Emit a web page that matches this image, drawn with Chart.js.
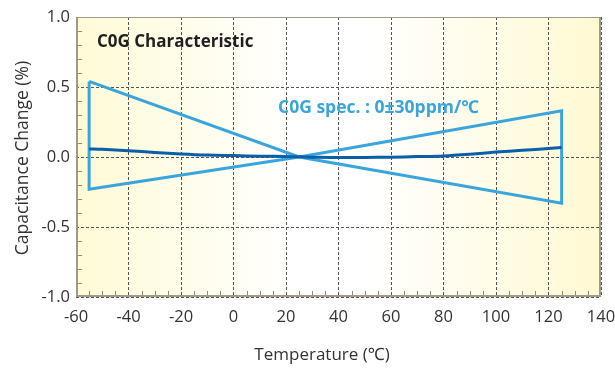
<!DOCTYPE html>
<html><head><meta charset="utf-8">
<script src="https://cdn.jsdelivr.net/npm/chart.js@4"></script>
<style>html,body{margin:0;padding:0;background:#fff}#wrap{width:615px;height:368px}</style>
</head><body><div id="wrap"><canvas id="c" width="615" height="368"></canvas></div>
<script>
const temps = [-55, -50, -40, -30, -20, -10, 0, 10, 20, 25, 30, 40, 50, 60, 70, 80, 90, 100, 110, 120, 125];
const measured = [0.058, 0.055, 0.045, 0.033, 0.022, 0.014, 0.010, 0.006, 0.003, 0.001, -0.001, -0.004, -0.003, -0.001, 0.003, 0.008, 0.020, 0.035, 0.048, 0.060, 0.067];
const specT = [-55, 25, 125, 125, 25, -55, -55];
const specV = [0.54, 0, -0.33, 0.33, 0, -0.23, 0.54];
const xTicks = [-60, -40, -20, 0, 20, 40, 60, 80, 100, 120, 140];
const yTicks = [-1.0, -0.5, 0.0, 0.5, 1.0];
const titleText = "C0G Characteristic";
const specText = "C0G spec. : 0\u00b130ppm/\u2103";
const xTitle = "Temperature (\u2103)";
const yTitle = "Capacitance Change (%)";

const FONT = '"Open Sans", "Noto Sans", sans-serif';

const bgPlugin = {
  id: 'bg',
  beforeDraw(chart) {
    const {ctx, chartArea: a} = chart;
    const g = ctx.createLinearGradient(a.left, 0, a.right, 0);
    g.addColorStop(0, '#fffbd6');
    g.addColorStop(0.42, '#ffffff');
    g.addColorStop(0.55, '#ffffff');
    g.addColorStop(1, '#fff9d2');
    ctx.save();
    ctx.fillStyle = g;
    ctx.fillRect(a.left, a.top, a.right - a.left, a.bottom - a.top);
    ctx.restore();
  },
  afterDatasetsDraw(chart) {
    const {ctx, chartArea: a, scales} = chart;
    ctx.save();
    ctx.strokeStyle = '#8c8a7c';
    ctx.lineWidth = 1;
    ctx.beginPath();
    for (let t = -60; t <= 140; t += 5) {
      if (t % 20 === 0) continue;
      const x = Math.round(scales.x.getPixelForValue(t)) + 0.5;
      ctx.moveTo(x, a.bottom); ctx.lineTo(x, a.bottom - 6);
    }
    for (let v = -10; v <= 10; v += 1) {
      if (v % 5 === 0) continue;
      const y = Math.round(scales.y.getPixelForValue(v / 10)) + 0.5;
      ctx.moveTo(a.left, y); ctx.lineTo(a.left + 6, y);
    }
    ctx.stroke();
    ctx.strokeStyle = '#9f9b88';
    ctx.lineWidth = 1;
    ctx.strokeRect(a.left + 0.5, a.top + 0.5, a.right - a.left - 1, a.bottom - a.top - 1);
    ctx.lineWidth = 2;
    ctx.beginPath();
    ctx.moveTo(a.left + 1, a.top); ctx.lineTo(a.left + 1, a.bottom - 1); ctx.lineTo(a.right, a.bottom - 1);
    ctx.moveTo(a.right - 1, a.top); ctx.lineTo(a.right - 1, a.bottom);
    ctx.stroke();
    ctx.textBaseline = 'middle';
    ctx.fillStyle = '#231f20';
    ctx.font = 'bold 17px ' + FONT;
    ctx.textAlign = 'left';
    ctx.fillText(titleText, 97, 42);
    ctx.fillStyle = '#3aa5dd';
    ctx.font = 'bold 17.5px ' + FONT;
    ctx.fillText(specText, 278, 108);
    ctx.fillStyle = '#333';
    ctx.font = '17px ' + FONT;
    ctx.textAlign = 'center';
    ctx.fillText(xTitle, 322, 355);
    ctx.translate(23, 158);
    ctx.rotate(-Math.PI / 2);
    ctx.font = '17.5px ' + FONT;
    ctx.fillText(yTitle, 0, 0);
    ctx.restore();
  }
};

new Chart(document.getElementById('c'), {
  type: 'scatter',
  data: {
    datasets: [
      {
        label: 'spec',
        data: specT.map((t, i) => ({x: t, y: specV[i]})),
        showLine: true,
        borderColor: '#3aa5dd',
        borderWidth: 3,
        pointRadius: 0,
        fill: false,
        tension: 0,
        order: 2
      },
      {
        label: 'measured',
        data: temps.map((t, i) => ({x: t, y: measured[i]})),
        showLine: true,
        borderColor: '#0b5ea8',
        borderWidth: 3,
        pointRadius: 0,
        tension: 0.3,
        order: 1
      }
    ]
  },
  options: {
    responsive: false,
    animation: false,
    layout: {padding: {top: 17, right: 14, left: 0, bottom: 0}},
    plugins: {legend: {display: false}, tooltip: {enabled: false}},
    scales: {
      x: {
        type: 'linear', min: -60, max: 140,
        afterBuildTicks(s) { s.ticks = xTicks.map(v => ({value: v})); },
        afterFit(s) { s.height = 71; s.paddingLeft = 0; s.paddingRight = 0; },
        grid: {color: '#555', lineWidth: 1, drawTicks: false},
        border: {display: false, dash: [3, 2]},
        ticks: {padding: 10, color: '#333', font: {family: FONT, size: 16.5}, callback: v => String(v)}
      },
      y: {
        type: 'linear', min: -1, max: 1,
        afterBuildTicks(s) { s.ticks = yTicks.map(v => ({value: v})); },
        afterFit(s) { s.width = 76; s.paddingTop = 0; s.paddingBottom = 0; },
        grid: {color: '#555', lineWidth: 1, drawTicks: false},
        border: {display: false, dash: [3, 2]},
        ticks: {padding: 6, color: '#333', font: {family: FONT, size: 16.5}, callback: v => v.toFixed(1)}
      }
    }
  },
  plugins: [bgPlugin]
});
</script>
</body></html>
